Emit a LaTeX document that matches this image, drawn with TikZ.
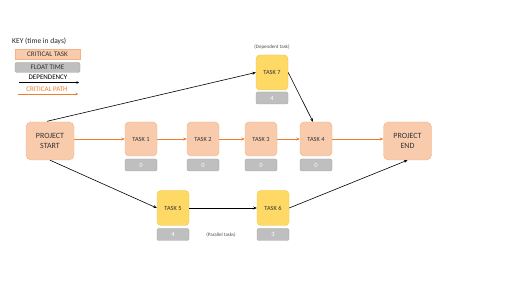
\documentclass[tikz,border=0pt]{standalone}
\usepackage{fontspec}
\setmainfont{Carlito}
\usetikzlibrary{arrows.meta}
\definecolor{peach}{HTML}{F8CBAD}
\definecolor{peachd}{HTML}{F4B183}
\definecolor{yel}{HTML}{FFD966}
\definecolor{yeld}{HTML}{F2C040}
\definecolor{flt}{HTML}{BFBFBF}
\definecolor{fltd}{HTML}{A6A6A6}
\definecolor{crit}{HTML}{ED7D31}
\tikzset{
  x=1pt,y=-1pt,
  endbox/.style={rectangle,rounded corners=5pt,fill=peach,draw=peachd,line width=0.4pt,minimum width=48pt,minimum height=38pt,align=center,font=\fontsize{8}{10}\selectfont,text=black!80,inner sep=1pt},
  crtask/.style={rectangle,rounded corners=4pt,fill=peach,draw=peachd,line width=0.4pt,minimum width=32pt,minimum height=34pt,font=\fontsize{6.3}{7}\selectfont,text=black!80,inner sep=1pt},
  ytask/.style={rectangle,rounded corners=4pt,fill=yel,draw=yeld,line width=0.4pt,minimum width=32pt,minimum height=35pt,font=\fontsize{6.3}{7}\selectfont,text=black!80,inner sep=1pt},
  fltbox/.style={rectangle,rounded corners=2pt,fill=flt,draw=fltd,line width=0.4pt,minimum width=32pt,minimum height=12pt,text=white,font=\fontsize{6.5}{7}\selectfont,inner sep=0pt},
  dep/.style={-{Stealth[length=3.5pt,width=3pt]},line width=0.6pt,black},
  cp/.style={-{Stealth[length=3.5pt,width=3pt]},line width=0.7pt,crit},
  lbl/.style={font=\fontsize{5}{6}\selectfont,text=black!70,inner sep=0pt},
  keybox/.style={rectangle,minimum width=65pt,minimum height=10pt,inner sep=0pt,font=\fontsize{7}{8}\selectfont,text=black!80}
}
\begin{document}
\begin{tikzpicture}
\useasboundingbox[fill=white] (0,0) rectangle (512,288);
% key
\node[anchor=west,font=\fontsize{7.5}{8}\selectfont,inner sep=0pt,text=black!85] (keyt) at (12,41) {KEY (time in days)};
\node[keybox,fill=peach,draw=peachd] (kct) at (47.5,54) {CRITICAL TASK};
\node[keybox,fill=flt,draw=fltd,rounded corners=1.5pt] (kft) at (47.5,67.5) {FLOAT TIME};
\node[font=\fontsize{7}{8}\selectfont,inner sep=0pt] (kdep) at (48,77.5) {DEPENDENCY};
\coordinate (kd1) at (19,82.5);
\coordinate (kd2) at (79,82.5);
\draw[-{Stealth[length=2.5pt,width=2.5pt]},line width=0.6pt] (kd1) -- (kd2);
\node[font=\fontsize{7}{8}\selectfont,inner sep=0pt,text=crit] (kcp) at (47,89) {CRITICAL PATH};
\coordinate (kc1) at (18,94);
\coordinate (kc2) at (78,94);
\draw[-{Stealth[length=2.5pt,width=2.5pt]},line width=0.6pt,crit] (kc1) -- (kc2);
% main nodes
\node[endbox] (ps) at (50,141) {PROJECT\\START};
\node[endbox] (pe) at (407.5,141) {PROJECT\\END};
\node[crtask] (t1) at (141,139) {TASK 1};
\node[fltbox] (f1) at (141,165) {0};
\node[crtask] (t2) at (203,139) {TASK 2};
\node[fltbox] (f2) at (203,165) {0};
\node[crtask] (t3) at (261,139) {TASK 3};
\node[fltbox] (f3) at (261,165) {0};
\node[crtask] (t4) at (316,139) {TASK 4};
\node[fltbox] (f4) at (316,165) {0};
\node[ytask] (t7) at (272,72.5) {TASK 7};
\node[fltbox] (f7) at (272,98) {4};
\node[ytask] (t5) at (173,208) {TASK 5};
\node[fltbox] (f5) at (173,234.5) {4};
\node[ytask] (t6) at (273,208) {TASK 6};
\node[fltbox] (f6) at (273,234.5) {3};
\node[lbl] (ldep) at (272,47.5) {(Dependent task)};
\node[lbl] (lpar) at (221,235) {(Parallel tasks)};
% critical path
\draw[cp] (ps.east |- t1.west) -- (t1.west);
\draw[cp] (t1) -- (t2);
\draw[cp] (t2) -- (t3);
\draw[cp] (t3) -- (t4);
\draw[cp] (t4.east) -- (pe.west |- t4.east);
% dependencies
\draw[dep] (ps.north) ++(-3,-0.5) -- (t7.west);
\draw[dep] (t7.east) -- ([xshift=-3pt]t4.north);
\draw[dep] (ps.south) -- (t5.west);
\draw[dep] (t5) -- (t6);
\draw[dep] (t6.east) -- (pe.south);
\end{tikzpicture}
\end{document}
